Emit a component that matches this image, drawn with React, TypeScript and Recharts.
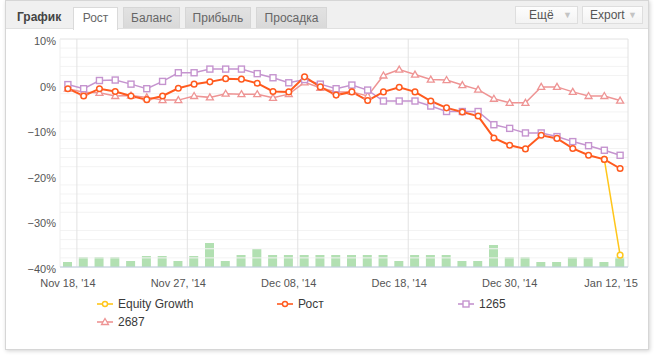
import React from "react";
import {
  ComposedChart,
  Line,
  Bar,
  XAxis,
  YAxis,
  CartesianGrid,
  ReferenceLine,
} from "recharts";

// x positions are trading-day indexes, only every 7th gets a label
const tickIndex = [0, 7, 14, 21, 28, 35];
const tickLabels = ["Nov 18, '14", "Nov 27, '14", "Dec 08, '14", "Dec 18, '14", "Dec 30, '14", "Jan 12, '15"];

const rost = [
  -0.9, -2.5, -0.9, -1.5, -2.5, -3.3, -2.5, -0.8, 0.1, 0.6, 1.3, 1.2, 0.3, -1.5, -1.6, 1.7, -0.5, -2.3,
  -1.6, -3.5, -1.6, -0.6, -1.6, -3.6, -5.1, -6.0, -6.9, -11.7, -13.3, -14.1, -11.1, -11.8, -14.0, -15.5, -16.4, -18.4,
];
const s1265 = [
  0, -0.9, 0.9, 1.0, 0.1, -0.9, 0.7, 2.6, 2.6, 3.4, 3.4, 3.4, 2.4, 1.5, 0.4, 1.1, 0.1, -0.9,
  -0.1, -1.2, -3.6, -3.6, -3.6, -4.7, -5.9, -5.9, -5.9, -8.8, -9.6, -10.6, -10.6, -11.4, -12.5, -13.4, -14.4, -15.5,
];
const s2687 = [
  -0.9, -1.7, -1.8, -2.5, -2.4, -2.8, -3.4, -3.4, -2.5, -2.8, -2.0, -2.1, -2.1, -2.9, -2.1, 0.5, -0.7, -1.6,
  -1.6, -2.5, 2.0, 3.3, 2.2, 1.1, 1.0, -0.1, -1.1, -3.1, -4.0, -4.0, -0.5, -0.5, -1.6, -2.5, -2.5, -3.5,
];
// equity growth only shows apart from Рост on the last step
const equity: (number | null)[] = [
  null, null, null, null, null, null, null, null, null, null, null, null, null, null, null, null, null, null,
  null, null, null, null, null, null, null, null, null, null, null, null, null, null, null, null, -16.4, -37.4,
];
const volume = [
  5, 10, 10, 10, 6, 11, 11, 6, 11, 24, 6, 12, 18, 12, 12, 12, 12, 12,
  12, 12, 12, 6, 12, 12, 12, 6, 6, 22, 10, 10, 5, 5, 10, 10, 5, 10,
];
const yTicks = [-40, -30, -20, -10, 0, 10];
const minorTicks = [-38, -36, -34, -32, -28, -26, -24, -22, -18, -16, -14, -12, -8, -6, -4, -2, 2, 4, 6, 8];

const data = rost.map((v, i) => ({
  i,
  rost: v,
  s1265: s1265[i],
  s2687: s2687[i],
  equity: equity[i],
  vol: volume[i],
}));

const C_ROST = "#ff5a1e";
const C_1265 = "#c594cf";
const C_2687 = "#ee9494";
const C_EQ = "#ffc61a";
const FONT = "'Liberation Sans', Arial, sans-serif";

const circleDot = (color: string) => (p: any) => {
  if (p.value == null || p.cy == null) return <g key={p.index} />;
  return <circle key={p.index} cx={p.cx} cy={p.cy} r={2.8} fill="#fff" stroke={color} strokeWidth={1.5} />;
};
const squareDot = (color: string) => (p: any) => {
  if (p.cy == null) return <g key={p.index} />;
  return <rect key={p.index} x={p.cx - 3} y={p.cy - 3} width={6} height={6} fill="#fff" stroke={color} strokeWidth={1.4} />;
};
const triangleDot = (color: string) => (p: any) => {
  if (p.cy == null) return <g key={p.index} />;
  const { cx, cy } = p;
  return (
    <polygon
      key={p.index}
      points={`${cx},${cy - 3.5} ${cx + 3.5},${cy + 2.5} ${cx - 3.5},${cy + 2.5}`}
      fill="#fff"
      stroke={color}
      strokeWidth={1.3}
    />
  );
};

const XTick = (props: any) => {
  const { x, y, payload } = props;
  const k = tickIndex.indexOf(payload.value);
  const last = k === tickIndex.length - 1;
  return (
    <text x={x + (last ? -9 : 0)} y={y + 12} textAnchor="middle" fill="#555" fontSize={11} fontFamily={FONT}>
      {tickLabels[k]}
    </text>
  );
};

const fmtY = (v: number) => (v < 0 ? `\u2212${-v}%` : `${v}%`);

const LegendIcon = ({ color, shape }: { color: string; shape: string }) => (
  <svg width={16} height={10} style={{ position: "absolute", left: 0, top: 2 }}>
    <line x1={0} y1={5} x2={16} y2={5} stroke={color} strokeWidth={2} opacity={0.8} />
    {shape === "circle" && <circle cx={8} cy={5} r={2.5} fill="#fff" stroke={color} strokeWidth={1.4} />}
    {shape === "square" && <rect x={5} y={2} width={6} height={6} fill="#fff" stroke={color} strokeWidth={1.4} />}
    {shape === "triangle" && <polygon points="8,1.5 11.5,7.5 4.5,7.5" fill="#fff" stroke={color} strokeWidth={1.3} />}
  </svg>
);

const legendItems = [
  { name: "Equity Growth", color: C_EQ, shape: "circle", left: 97, top: 297 },
  { name: "Рост", color: C_ROST, shape: "circle", left: 277, top: 297 },
  { name: "1265", color: C_1265, shape: "square", left: 458, top: 297 },
  { name: "2687", color: C_2687, shape: "triangle", left: 97, top: 315 },
];

const tabs = [
  { name: "Рост", left: 73, width: 45, active: true },
  { name: "Баланс", left: 123, width: 57, active: false },
  { name: "Прибыль", left: 185, width: 66, active: false },
  { name: "Просадка", left: 256, width: 71, active: false },
];

export default function App() {
  return (
    <div style={{ position: "absolute", left: 0, top: 0, width: 655, height: 356, background: "#fff", fontFamily: FONT }}>
      {/* widget frame */}
      <div
        style={{
          position: "absolute",
          left: 5,
          top: 0,
          width: 642,
          height: 348,
          border: "1px solid #d6d6d6",
          boxShadow: "1px 1px 4px rgba(0,0,0,0.18)",
          background: "#fff",
        }}
      />
      {/* header bar */}
      <div
        style={{
          position: "absolute",
          left: 6,
          top: 1,
          width: 642,
          height: 27,
          background: "#f0f0f0",
          borderBottom: "1px solid #e0e0e0",
        }}
      />
      <div style={{ position: "absolute", left: 17, top: 10, fontSize: 12, fontWeight: "bold", color: "#444" }}>График</div>
      {tabs.map((t) => (
        <div
          key={t.name}
          style={{
            position: "absolute",
            left: t.left,
            top: 7,
            width: t.width,
            height: t.active ? 23 : 21,
            boxSizing: "border-box",
            border: t.active ? "1px solid #dadada" : "1px solid #d6d6d6",
            borderBottom: "none",
            background: t.active ? "#fff" : "linear-gradient(#e2e2e2, #d9d9d9)",
            color: "#666",
            fontSize: 12,
            textAlign: "center",
            lineHeight: "20px",
          }}
        >
          {t.name}
        </div>
      ))}
      {[
        { name: "Ещё", left: 515, width: 63 },
        { name: "Export", left: 582, width: 61 },
      ].map((b) => (
        <div
          key={b.name}
          style={{
            position: "absolute",
            left: b.left,
            top: 6,
            width: b.width,
            height: 18,
            boxSizing: "border-box",
            border: "1px solid #dedede",
            background: "linear-gradient(#fdfdfd, #f3f3f3)",
            color: "#555",
            fontSize: 12,
            lineHeight: "16px",
            paddingLeft: b.name === "Ещё" ? 13 : 7,
          }}
        >
          {b.name}
          <span style={{ position: "absolute", right: 5, top: 0, color: "#c4c4c4", fontSize: 9 }}>▼</span>
        </div>
      ))}

      <div style={{ position: "absolute", left: 0, top: 0 }}>
        <ComposedChart width={655} height={300} data={data} margin={{ top: 39, right: 27, left: 2, bottom: 10 }}>
          <CartesianGrid vertical={false} stroke="#e2e2e2" />
          {minorTicks.map((v) => (
            <ReferenceLine key={`m${v}`} y={v} yAxisId="pct" stroke="#f3f3f3" />
          ))}
          <ReferenceLine x={-0.5} yAxisId="pct" stroke="#eeeeee" />
          {tickIndex.map((t) =>
            t === 35 ? (
              <ReferenceLine key={`v${t}`} x={35.5} yAxisId="pct" stroke="#e2e2e2" />
            ) : (
              <ReferenceLine key={`v${t}`} x={t + 0.57} yAxisId="pct" stroke="#e2e2e2" />
            )
          )}
          <XAxis
            dataKey="i"
            type="number"
            domain={[-0.5, 35.5]}
            ticks={tickIndex}
            interval={0}
            height={23}
            tickLine={false}
            axisLine={{ stroke: "#c0d0e0" }}
            tick={<XTick />}
          />
          <YAxis
            yAxisId="pct"
            domain={[-40, 10]}
            ticks={yTicks}
            width={58}
            axisLine={false}
            tickLine={false}
            tickSize={3}
            tickMargin={1}
            tickFormatter={fmtY}
            tick={{ fill: "#555", fontSize: 11, fontFamily: FONT, dy: 2 }}
          />
          <YAxis yAxisId="vol" orientation="right" hide domain={[0, 228]} />
          <Bar yAxisId="vol" dataKey="vol" barSize={9} fill="#b2e0b2" isAnimationActive={false} />
          <Line
            yAxisId="pct"
            dataKey="equity"
            stroke={C_EQ}
            strokeWidth={1.5}
            dot={circleDot(C_EQ)}
            activeDot={false}
            connectNulls={false}
            isAnimationActive={false}
          />
          <Line
            yAxisId="pct"
            dataKey="s2687"
            stroke={C_2687}
            strokeWidth={1.5}
            dot={triangleDot(C_2687)}
            activeDot={false}
            isAnimationActive={false}
          />
          <Line
            yAxisId="pct"
            dataKey="s1265"
            stroke={C_1265}
            strokeWidth={1.5}
            dot={squareDot(C_1265)}
            activeDot={false}
            isAnimationActive={false}
          />
          <Line
            yAxisId="pct"
            dataKey="rost"
            stroke={C_ROST}
            strokeWidth={2}
            dot={circleDot(C_ROST)}
            activeDot={false}
            isAnimationActive={false}
          />
        </ComposedChart>
      </div>

      {legendItems.map((it) => (
        <div key={it.name} style={{ position: "absolute", left: it.left, top: it.top, fontSize: 12, color: "#3a3a3a" }}>
          <LegendIcon color={it.color} shape={it.shape} />
          <span style={{ marginLeft: 21 }}>{it.name}</span>
        </div>
      ))}
    </div>
  );
}
